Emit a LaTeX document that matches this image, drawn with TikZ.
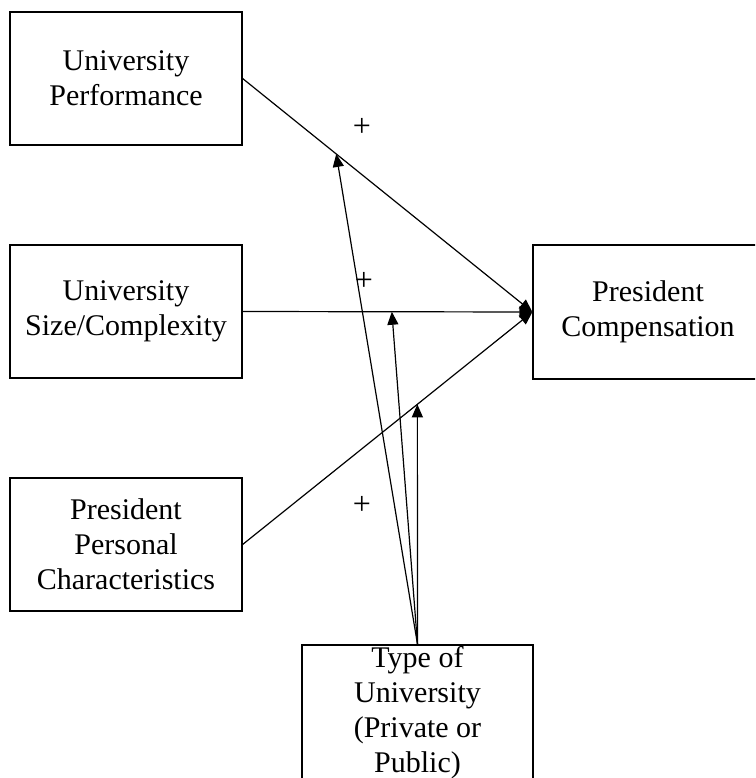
\documentclass[tikz,border=0pt]{standalone}
\usepackage{fontspec}
\setmainfont{Liberation Serif}
\usetikzlibrary{arrows.meta,calc}
\begin{document}
\begin{tikzpicture}[x=1pt,y=-1pt,
  box/.style={draw, line width=1.2pt, rectangle, align=center, inner sep=0pt,
    font=\fontsize{30}{35}\selectfont},
  link/.style={line width=1.2pt, -{Triangle[length=13pt,width=11pt]}},
  sign/.style={font=\fontsize{32}{34}\selectfont, inner sep=0pt}]
\clip (0,0) rectangle (755,778);
\fill[white] (0,0) rectangle (755,778);
\node[box, minimum width=232pt, minimum height=133pt] (up) at (126,78.5) {University\\Performance};
\node[box, minimum width=232pt, minimum height=133pt] (sz) at (126,311.5) {University\\Size/Complexity};
\node[box, minimum width=232pt, minimum height=133pt] (ppc) at (126,544.5) {President\\Personal\\Characteristics};
\node[box, minimum width=230pt, minimum height=134pt] (pc) at (648,312) {President\\Compensation};
\node[box, minimum width=231pt, minimum height=136pt] (ty) at (417.5,713) {Type of\\University\\(Private or\\Public)};
\draw[link] (up.east) -- (pc.west);
\draw[link] (sz.east) -- (pc.west);
\draw[link] (ppc.east) -- (pc.west);
\coordinate (m1) at ($(up.east)!0.323!(pc.west)$);
\coordinate (m2) at ($(sz.east)!0.515!(pc.west)$);
\coordinate (m3) at ($(ppc.east)!0.603!(pc.west)$);
\draw[link] (ty.north) -- (m1);
\draw[link] (ty.north) -- (m2);
\draw[link] (ty.north) -- (m3);
\node[sign] (p1) at (362,127) {+};
\node[sign] (p2) at (364,281) {+};
\node[sign] (p3) at (362,505) {+};
\end{tikzpicture}
\end{document}
